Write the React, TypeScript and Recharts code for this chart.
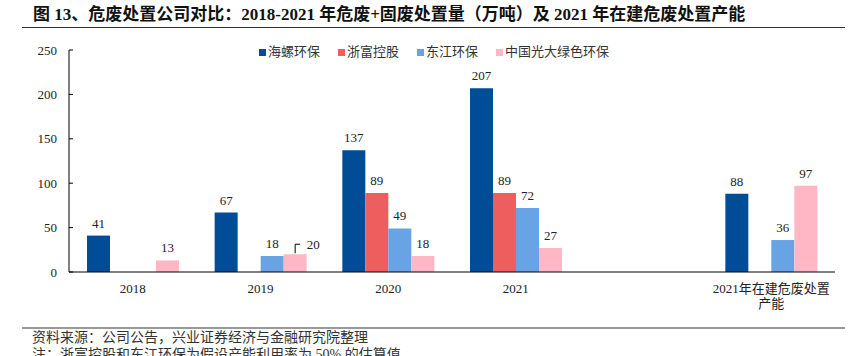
import React from 'react';
import { BarChart, Bar, XAxis, YAxis, Legend, LabelList } from 'recharts';

const categories = ['2018', '2019', '2020', '2021', '', '2021年在建危废处置\n产能'];
const hailuo = [41, 67, 137, 207, null, 88];
const zhefu = [null, null, 89, 89, null, null];
const dongjiang = [null, 18, 49, 72, null, 36];
const everbright = [13, 20, 18, 27, null, 97];
const seriesNames = ['海螺环保', '浙富控股', '东江环保', '中国光大绿色环保'];
const yTicks = [0, 50, 100, 150, 200, 250];
const titleText = '图 13、危废处置公司对比：2018-2021 年危废+固废处置量（万吨）及 2021 年在建危废处置产能';
const sourceText = '资料来源：公司公告，兴业证券经济与金融研究院整理';
const noteText = '注：浙富控股和东江环保为假设产能利用率为 50% 的估算值';

const colors = ['#004C97', '#EE5E5E', '#68A3E5', '#FFB7C5'];
const keys = ['s0', 's1', 's2', 's3'];
const serif = '"Liberation Serif", "Times New Roman", "Noto Sans CJK SC", serif';
const cjk = '"Liberation Serif", "Noto Sans CJK SC", serif';

const data = categories.map((c, i) => ({
  name: c,
  s0: hailuo[i],
  s1: zhefu[i],
  s2: dongjiang[i],
  s3: everbright[i],
}));

const YTick = (props: any) => {
  const { x, y, payload } = props;
  return (
    <g>
      <line x1={x + 12} x2={x + 16} y1={y} y2={y} stroke="#000" strokeWidth={1} />
      <text x={x} y={y} dy="0.35em" textAnchor="end" fontSize={13} fill="#222" fontFamily={serif}>
        {payload.value}
      </text>
    </g>
  );
};

const XTick = (props: any) => {
  const { x, y, payload } = props;
  const lines = String(payload.value).split('\n');
  return (
    <text x={x} y={y} textAnchor="middle" fontSize={13} fill="#222" fontFamily={cjk}>
      {lines.map((l, i) => (
        <tspan key={i} x={x} dy={i === 0 ? '0.71em' : 15}>
          {l}
        </tspan>
      ))}
    </text>
  );
};

const makeLabel = (seriesIdx: number) => (props: any) => {
  const { x, y, width, value, index } = props;
  if (value === null || value === undefined) return null;
  const cx = x + width / 2;
  const leader = seriesIdx === 3 && categories[index] === '2019';
  if (leader) {
    return (
      <g>
        <polyline
          points={`${cx},${y - 1} ${cx},${y - 10} ${cx + 5},${y - 10}`}
          fill="none"
          stroke="#000"
          strokeWidth={1}
        />
        <text x={cx + 18} y={y - 10} dy="0.35em" textAnchor="middle" fontSize={13} fill="#222" fontFamily={serif}>
          {value}
        </text>
      </g>
    );
  }
  return (
    <text x={cx} y={y - 8} textAnchor="middle" fontSize={13} fill="#222" fontFamily={serif}>
      {value}
    </text>
  );
};

const LegendContent = () => (
  <div style={{ display: 'flex', alignItems: 'center', height: 16, whiteSpace: 'nowrap' }}>
    {seriesNames.map((n, i) => (
      <div key={n} style={{ display: 'flex', alignItems: 'center', marginRight: 18 }}>
        <span style={{ display: 'inline-block', width: 7, height: 7, background: colors[i], marginRight: 2 }} />
        <span style={{ fontSize: 13, color: '#333', fontFamily: cjk, lineHeight: '16px' }}>{n}</span>
      </div>
    ))}
  </div>
);

export default function App() {
  return (
    <div style={{ position: 'absolute', left: 0, top: 0, width: 852, height: 356, background: '#fff', overflow: 'hidden' }}>
      <div
        style={{
          position: 'absolute',
          left: 33,
          top: 5,
          fontSize: 17,
          fontWeight: 'bold',
          fontFamily: cjk,
          color: '#111',
          whiteSpace: 'nowrap',
          lineHeight: '20px',
        }}
      >
        {titleText}
      </div>
      <div style={{ position: 'absolute', left: 22, top: 27, width: 823, height: 0, borderTop: '1.5px solid #333' }} />
      <div style={{ position: 'absolute', left: 0, top: 0 }}>
        <BarChart
          width={852}
          height={356}
          data={data}
          margin={{ top: 50, right: 17, bottom: 44, left: 19 }}
          barGap={0}
          barSize={23}
        >
          <XAxis
            dataKey="name"
            interval={0}
            height={40}
            tickLine={false}
            tickSize={0}
            tickMargin={12}
            axisLine={{ stroke: '#000', strokeWidth: 1 }}
            tick={<XTick />}
          />
          <YAxis
            width={50}
            domain={[0, 250]}
            ticks={yTicks}
            interval={0}
            tickLine={false}
            tickSize={0}
            tickMargin={12}
            axisLine={{ stroke: '#000', strokeWidth: 1 }}
            tick={<YTick />}
          />
          <Legend
            layout="horizontal"
            verticalAlign="middle"
            align="center"
            content={<LegendContent />}
            wrapperStyle={{ position: 'absolute', top: 44, left: 259, width: 'auto' }}
          />
          {keys.map((k, i) => (
            <Bar key={k} dataKey={k} name={seriesNames[i]} fill={colors[i]} isAnimationActive={false}>
              <LabelList dataKey={k} content={makeLabel(i)} />
            </Bar>
          ))}
        </BarChart>
      </div>
      <div style={{ position: 'absolute', left: 22, top: 327, width: 823, height: 2, background: '#999' }} />
      <div
        style={{
          position: 'absolute',
          left: 32,
          top: 329,
          fontSize: 14,
          fontFamily: cjk,
          color: '#333',
          whiteSpace: 'nowrap',
          lineHeight: '17px',
        }}
      >
        {sourceText}
        <br />
        {noteText}
      </div>
    </div>
  );
}
